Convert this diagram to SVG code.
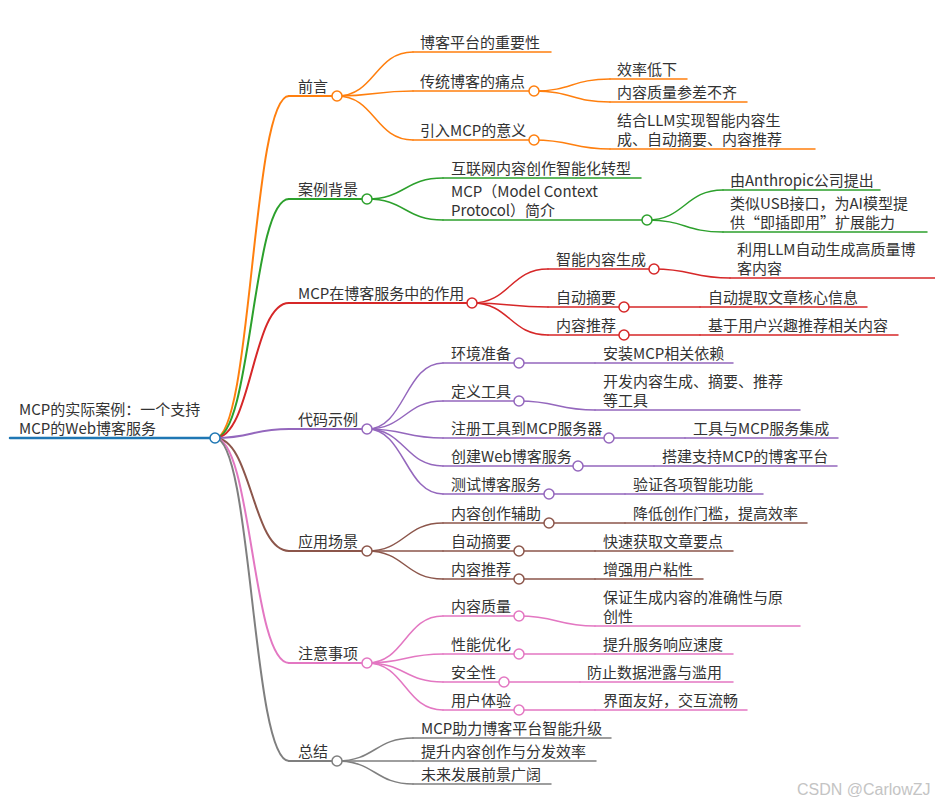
<svg xmlns="http://www.w3.org/2000/svg" width="935" height="805" viewBox="0 0 935 805">
<style>
text{font-family:"Noto Sans CJK SC","Noto Sans",sans-serif;font-size:15px;fill:#333}
path,line{fill:none;stroke-linecap:round}
circle{fill:#fff;stroke-width:1.5}
.d0{stroke-width:2.5}.d1{stroke-width:2}.d2{stroke-width:1.5}.d3{stroke-width:1.5}
.c0{stroke:#1f77b4}.c1{stroke:#ff7f0e}.c2{stroke:#2ca02c}.c3{stroke:#d62728}.c4{stroke:#9467bd}.c5{stroke:#8c564b}.c6{stroke:#e377c2}.c7{stroke:#7f7f7f}
.wm{font-family:"Liberation Sans",Arial,sans-serif;font-size:16px;fill:#c4c4c4}
</style>
<g id="connectors">
<path class="c1 d1" d="M215,438 C252,438 252,96 289,96"/>
<path class="c2 d1" d="M215,438 C252,438 252,199 289,199"/>
<path class="c3 d1" d="M215,438 C252,438 252,303 289,303"/>
<path class="c4 d1" d="M215,438 C252,438 252,429 289,429"/>
<path class="c5 d1" d="M215,438 C252,438 252,551 289,551"/>
<path class="c6 d1" d="M215,438 C252,438 252,663 289,663"/>
<path class="c7 d1" d="M215,438 C252,438 252,761 289,761"/>
<path class="c1 d2" d="M337,96 C375,96 375,52 413,52"/>
<path class="c1 d2" d="M337,96 C375,96 375,91 413,91"/>
<path class="c1 d2" d="M337,96 C375,96 375,140 413,140"/>
<path class="c1 d3" d="M534,91 C572,91 572,79 610,79"/>
<path class="c1 d3" d="M534,91 C572,91 572,102 610,102"/>
<path class="c1 d3" d="M534,140 C572,140 572,149 610,149"/>
<path class="c2 d2" d="M367,199 C405,199 405,178 443,178"/>
<path class="c2 d2" d="M367,199 C405,199 405,220 443,220"/>
<path class="c2 d3" d="M647,220 C685,220 685,190 723,190"/>
<path class="c2 d3" d="M647,220 C685,220 685,232 723,232"/>
<path class="c3 d2" d="M472,303 C510,303 510,269 548,269"/>
<path class="c3 d2" d="M472,303 C510,303 510,307 548,307"/>
<path class="c3 d2" d="M472,303 C510,303 510,335 548,335"/>
<path class="c3 d3" d="M654,269 C692,269 692,278 730,278"/>
<path class="c3 d3" d="M624,307 L700,307"/>
<path class="c3 d3" d="M624,335 L700,335"/>
<path class="c4 d2" d="M367,429 C405,429 405,363 443,363"/>
<path class="c4 d2" d="M367,429 C405,429 405,401 443,401"/>
<path class="c4 d2" d="M367,429 C405,429 405,438 443,438"/>
<path class="c4 d2" d="M367,429 C405,429 405,466 443,466"/>
<path class="c4 d2" d="M367,429 C405,429 405,494 443,494"/>
<path class="c4 d3" d="M519,363 L595,363"/>
<path class="c4 d3" d="M519,401 C557,401 557,410 595,410"/>
<path class="c4 d3" d="M609,438 L685,438"/>
<path class="c4 d3" d="M578,466 L654,466"/>
<path class="c4 d3" d="M549,494 L625,494"/>
<path class="c5 d2" d="M367,551 C405,551 405,523 443,523"/>
<path class="c5 d2" d="M367,551 L443,551"/>
<path class="c5 d2" d="M367,551 C405,551 405,579 443,579"/>
<path class="c5 d3" d="M549,523 L625,523"/>
<path class="c5 d3" d="M519,551 L595,551"/>
<path class="c5 d3" d="M519,579 L595,579"/>
<path class="c6 d2" d="M367,663 C405,663 405,616 443,616"/>
<path class="c6 d2" d="M367,663 C405,663 405,654 443,654"/>
<path class="c6 d2" d="M367,663 C405,663 405,682 443,682"/>
<path class="c6 d2" d="M367,663 C405,663 405,710 443,710"/>
<path class="c6 d3" d="M519,616 C557,616 557,626 595,626"/>
<path class="c6 d3" d="M519,654 L595,654"/>
<path class="c6 d3" d="M504,682 L580,682"/>
<path class="c6 d3" d="M519,710 L595,710"/>
<path class="c7 d2" d="M337,761 C375,761 375,738 413,738"/>
<path class="c7 d2" d="M337,761 L413,761"/>
<path class="c7 d2" d="M337,761 C375,761 375,784 413,784"/>
</g>
<g id="root"><line class="c0 d0" x1="10" y1="438" x2="215" y2="438"/><circle class="c0" cx="215" cy="438" r="5"/><text x="19" y="415">MCP的实际案例：一个支持</text><text x="19" y="434">MCP的Web博客服务</text></g>

<g id="n-qianyan"><line class="c1 d1" x1="289" y1="96" x2="337" y2="96"/><circle class="c1" cx="337" cy="96" r="5"/><text x="298" y="92">前言</text></g>
<g id="n-qy1"><line class="c1 d2" x1="413" y1="52" x2="551" y2="52"/><text x="420" y="48">博客平台的重要性</text></g>
<g id="n-qy2"><line class="c1 d2" x1="413" y1="91" x2="534" y2="91"/><circle class="c1" cx="534" cy="91" r="5"/><text x="420" y="87">传统博客的痛点</text></g>
<g id="n-qy2a"><line class="c1 d3" x1="610" y1="79" x2="687" y2="79"/><text x="617" y="75">效率低下</text></g>
<g id="n-qy2b"><line class="c1 d3" x1="610" y1="102" x2="747" y2="102"/><text x="617" y="98">内容质量参差不齐</text></g>
<g id="n-qy3"><line class="c1 d2" x1="413" y1="140" x2="534" y2="140"/><circle class="c1" cx="534" cy="140" r="5"/><text x="420" y="136">引入MCP的意义</text></g>
<g id="n-qy3a"><line class="c1 d3" x1="610" y1="149" x2="815" y2="149"/><text x="617" y="126">结合LLM实现智能内容生</text><text x="617" y="145">成、自动摘要、内容推荐</text></g>

<g id="n-bg"><line class="c2 d1" x1="289" y1="199" x2="367" y2="199"/><circle class="c2" cx="367" cy="199" r="5"/><text x="298" y="195">案例背景</text></g>
<g id="n-bg1"><line class="c2 d2" x1="443" y1="178" x2="641" y2="178"/><text x="451" y="174">互联网内容创作智能化转型</text></g>
<g id="n-bg2"><line class="c2 d2" x1="443" y1="220" x2="647" y2="220"/><circle class="c2" cx="647" cy="220" r="5"/><text x="451" y="197">MCP（Model Context</text><text x="451" y="216">Protocol）简介</text></g>
<g id="n-bg2a"><line class="c2 d3" x1="723" y1="190" x2="880" y2="190"/><text x="730" y="186">由Anthropic公司提出</text></g>
<g id="n-bg2b"><line class="c2 d3" x1="723" y1="232" x2="927" y2="232"/><text x="730" y="209">类似USB接口，为AI模型提</text><text x="730" y="228">供“即插即用”扩展能力</text></g>

<g id="n-role"><line class="c3 d1" x1="289" y1="303" x2="472" y2="303"/><circle class="c3" cx="472" cy="303" r="5"/><text x="298" y="299">MCP在博客服务中的作用</text></g>
<g id="n-role1"><line class="c3 d2" x1="548" y1="269" x2="654" y2="269"/><circle class="c3" cx="654" cy="269" r="5"/><text x="556" y="265">智能内容生成</text></g>
<g id="n-role1a"><line class="c3 d3" x1="730" y1="278" x2="935" y2="278"/><text x="737" y="255">利用LLM自动生成高质量博</text><text x="737" y="274">客内容</text></g>
<g id="n-role2"><line class="c3 d2" x1="548" y1="307" x2="624" y2="307"/><circle class="c3" cx="624" cy="307" r="5"/><text x="556" y="303">自动摘要</text></g>
<g id="n-role2a"><line class="c3 d3" x1="700" y1="307" x2="867" y2="307"/><text x="708" y="303">自动提取文章核心信息</text></g>
<g id="n-role3"><line class="c3 d2" x1="548" y1="335" x2="624" y2="335"/><circle class="c3" cx="624" cy="335" r="5"/><text x="556" y="331">内容推荐</text></g>
<g id="n-role3a"><line class="c3 d3" x1="700" y1="335" x2="898" y2="335"/><text x="708" y="331">基于用户兴趣推荐相关内容</text></g>

<g id="n-code"><line class="c4 d1" x1="289" y1="429" x2="367" y2="429"/><circle class="c4" cx="367" cy="429" r="5"/><text x="298" y="425">代码示例</text></g>
<g id="n-code1"><line class="c4 d2" x1="443" y1="363" x2="519" y2="363"/><circle class="c4" cx="519" cy="363" r="5"/><text x="451" y="359">环境准备</text></g>
<g id="n-code1a"><line class="c4 d3" x1="595" y1="363" x2="733" y2="363"/><text x="603" y="359">安装MCP相关依赖</text></g>
<g id="n-code2"><line class="c4 d2" x1="443" y1="401" x2="519" y2="401"/><circle class="c4" cx="519" cy="401" r="5"/><text x="451" y="397">定义工具</text></g>
<g id="n-code2a"><line class="c4 d3" x1="595" y1="410" x2="800" y2="410"/><text x="603" y="387">开发内容生成、摘要、推荐</text><text x="603" y="406">等工具</text></g>
<g id="n-code3"><line class="c4 d2" x1="443" y1="438" x2="609" y2="438"/><circle class="c4" cx="609" cy="438" r="5"/><text x="451" y="434">注册工具到MCP服务器</text></g>
<g id="n-code3a"><line class="c4 d3" x1="685" y1="438" x2="838" y2="438"/><text x="693" y="434">工具与MCP服务集成</text></g>
<g id="n-code4"><line class="c4 d2" x1="443" y1="466" x2="578" y2="466"/><circle class="c4" cx="578" cy="466" r="5"/><text x="451" y="462">创建Web博客服务</text></g>
<g id="n-code4a"><line class="c4 d3" x1="654" y1="466" x2="837" y2="466"/><text x="662" y="462">搭建支持MCP的博客平台</text></g>
<g id="n-code5"><line class="c4 d2" x1="443" y1="494" x2="549" y2="494"/><circle class="c4" cx="549" cy="494" r="5"/><text x="451" y="490">测试博客服务</text></g>
<g id="n-code5a"><line class="c4 d3" x1="625" y1="494" x2="763" y2="494"/><text x="633" y="490">验证各项智能功能</text></g>

<g id="n-app"><line class="c5 d1" x1="289" y1="551" x2="367" y2="551"/><circle class="c5" cx="367" cy="551" r="5"/><text x="298" y="547">应用场景</text></g>
<g id="n-app1"><line class="c5 d2" x1="443" y1="523" x2="549" y2="523"/><circle class="c5" cx="549" cy="523" r="5"/><text x="451" y="519">内容创作辅助</text></g>
<g id="n-app1a"><line class="c5 d3" x1="625" y1="523" x2="807" y2="523"/><text x="633" y="519">降低创作门槛，提高效率</text></g>
<g id="n-app2"><line class="c5 d2" x1="443" y1="551" x2="519" y2="551"/><circle class="c5" cx="519" cy="551" r="5"/><text x="451" y="547">自动摘要</text></g>
<g id="n-app2a"><line class="c5 d3" x1="595" y1="551" x2="733" y2="551"/><text x="603" y="547">快速获取文章要点</text></g>
<g id="n-app3"><line class="c5 d2" x1="443" y1="579" x2="519" y2="579"/><circle class="c5" cx="519" cy="579" r="5"/><text x="451" y="575">内容推荐</text></g>
<g id="n-app3a"><line class="c5 d3" x1="595" y1="579" x2="703" y2="579"/><text x="603" y="575">增强用户粘性</text></g>

<g id="n-note"><line class="c6 d1" x1="289" y1="663" x2="367" y2="663"/><circle class="c6" cx="367" cy="663" r="5"/><text x="298" y="659">注意事项</text></g>
<g id="n-note1"><line class="c6 d2" x1="443" y1="616" x2="519" y2="616"/><circle class="c6" cx="519" cy="616" r="5"/><text x="451" y="612">内容质量</text></g>
<g id="n-note1a"><line class="c6 d3" x1="595" y1="626" x2="800" y2="626"/><text x="603" y="603">保证生成内容的准确性与原</text><text x="603" y="622">创性</text></g>
<g id="n-note2"><line class="c6 d2" x1="443" y1="654" x2="519" y2="654"/><circle class="c6" cx="519" cy="654" r="5"/><text x="451" y="650">性能优化</text></g>
<g id="n-note2a"><line class="c6 d3" x1="595" y1="654" x2="733" y2="654"/><text x="603" y="650">提升服务响应速度</text></g>
<g id="n-note3"><line class="c6 d2" x1="443" y1="682" x2="504" y2="682"/><circle class="c6" cx="504" cy="682" r="5"/><text x="451" y="678">安全性</text></g>
<g id="n-note3a"><line class="c6 d3" x1="580" y1="682" x2="733" y2="682"/><text x="587" y="678">防止数据泄露与滥用</text></g>
<g id="n-note4"><line class="c6 d2" x1="443" y1="710" x2="519" y2="710"/><circle class="c6" cx="519" cy="710" r="5"/><text x="451" y="706">用户体验</text></g>
<g id="n-note4a"><line class="c6 d3" x1="595" y1="710" x2="747" y2="710"/><text x="603" y="706">界面友好，交互流畅</text></g>

<g id="n-sum"><line class="c7 d1" x1="289" y1="761" x2="337" y2="761"/><circle class="c7" cx="337" cy="761" r="5"/><text x="298" y="757">总结</text></g>
<g id="n-sum1"><line class="c7 d2" x1="413" y1="738" x2="611" y2="738"/><text x="421" y="734">MCP助力博客平台智能升级</text></g>
<g id="n-sum2"><line class="c7 d2" x1="413" y1="761" x2="596" y2="761"/><text x="421" y="757">提升内容创作与分发效率</text></g>
<g id="n-sum3"><line class="c7 d2" x1="413" y1="784" x2="551" y2="784"/><text x="421" y="780">未来发展前景广阔</text></g>

<text class="wm" x="797" y="795">CSDN @CarlowZJ</text>
</svg>
